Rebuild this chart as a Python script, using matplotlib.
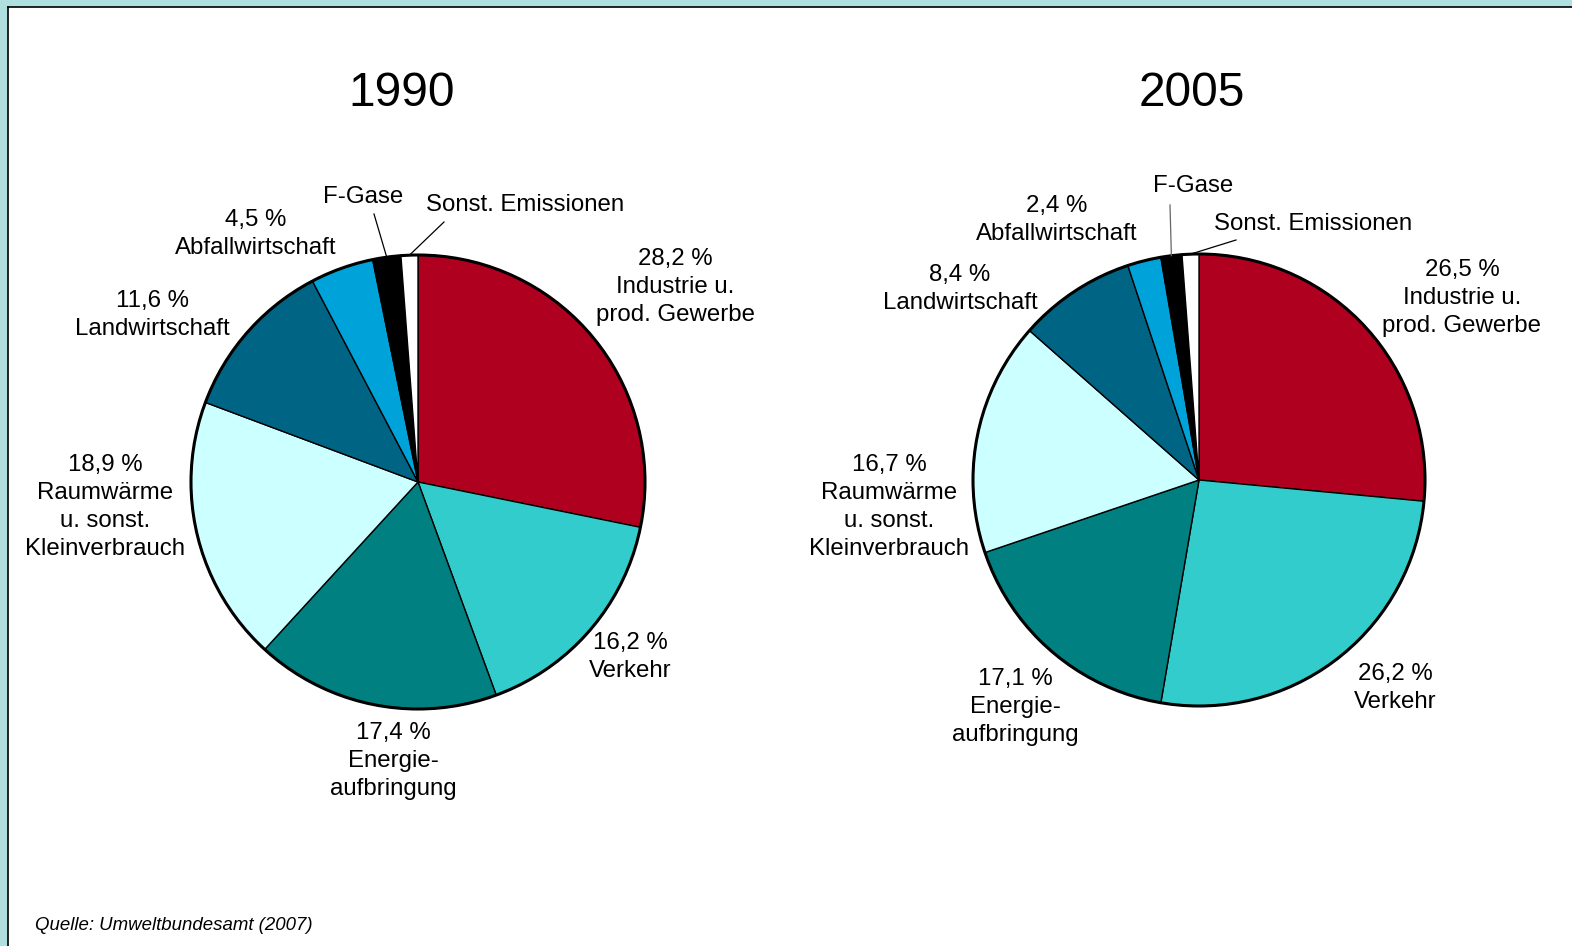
import numpy as np
import matplotlib.pyplot as plt
from matplotlib.patches import Circle, Rectangle

plt.rcParams['font.family'] = ['Liberation Sans', 'DejaVu Sans']

# data
years = ['1990', '2005']
sectors = ['Industrie u.\nprod. Gewerbe', 'Verkehr', 'Energie-\naufbringung',
           'Raumwärme\nu. sonst.\nKleinverbrauch', 'Landwirtschaft',
           'Abfallwirtschaft', 'F-Gase', 'Sonst. Emissionen']
share_1990 = [28.2, 16.2, 17.4, 18.9, 11.6, 4.5, 2.0, 1.2]
share_2005 = [26.5, 26.2, 17.1, 16.7, 8.4, 2.4, 1.5, 1.2]
colors = ['#AF0020', '#33CCCC', '#008080', '#CCFFFF', '#006584', '#00A3D9',
          '#000000', '#FFFFFF']

W, H = 1572, 946
fig = plt.figure(figsize=(W / 100, H / 100), dpi=100)
ax = fig.add_axes([0, 0, 1, 1])

def Y(y):
    # pixel row (from top) -> data y
    return H - y

# layout per chart: centre, radius, title pos, label positions
layout = {
    '1990': dict(c=(418, 482), r=227, title=(402, 94),
                 lab=[(675, 287), (630, 657), (393, 761), (105, 507),
                      (152, 315), (256, 234), (363, 197), (525, 205)],
                 lead={6: (374, 214), 7: (444, 222)}),
    '2005': dict(c=(1199, 480), r=226, title=(1192, 94),
                 lab=[(1462, 298), (1395, 688), (1015, 707), (889, 507),
                      (960, 289), (1057, 220), (1193, 186), (1313, 224)],
                 lead={6: (1170, 205), 7: (1236, 240)}),
}

for year, vals in zip(years, [share_1990, share_2005]):
    L = layout[year]
    cx, cy = L['c'][0], Y(L['c'][1])
    wedges, _ = ax.pie(vals, colors=colors, startangle=90, counterclock=False,
                       center=(cx, cy), radius=L['r'],
                       wedgeprops=dict(edgecolor='black', linewidth=1.0))
    ax.add_patch(Circle((cx, cy), L['r'], fill=False, edgecolor='black', lw=2.2, zorder=3))
    ax.text(L['title'][0], Y(L['title'][1]), year, fontsize=34.5, ha='center', va='center')
    for i, (name, v) in enumerate(zip(sectors, vals)):
        x, y = L['lab'][i]
        if i >= 6:
            txt = name
        else:
            txt = ('%.1f %%' % v).replace('.', ',') + '\n' + name
        ax.text(x, Y(y), txt, fontsize=17.3, ha='center', va='center', linespacing=1.36)
        if i in L['lead']:
            w = wedges[i]
            a = np.deg2rad((w.theta1 + w.theta2) / 2)
            px, py = cx + L['r'] * np.cos(a), cy + L['r'] * np.sin(a)
            ex, ey = L['lead'][i]
            lc = '#666666' if (year == '2005' and i == 6) else 'black'
            ax.plot([px, ex], [py, Y(ey)], color=lc, lw=0.9, zorder=4)

ax.text(35, Y(925), 'Quelle: Umweltbundesamt (2007)', fontsize=13.4, style='italic',
        ha='left', va='center')

# frame like the slide
ax.add_patch(Rectangle((0, Y(6)), W, 6, color='#B0DFE0', zorder=5))
ax.add_patch(Rectangle((0, 0), 7, H, color='#B0DFE0', zorder=5))
ax.plot([7.5, W], [Y(7), Y(7)], color='black', lw=1.2, zorder=6)
ax.plot([7.5, 7.5], [0, Y(7)], color='black', lw=1.2, zorder=6)

ax.set_xlim(0, W)
ax.set_ylim(0, H)
ax.set_aspect('equal')
ax.axis('off')

fig.savefig('out.png', dpi=100)
